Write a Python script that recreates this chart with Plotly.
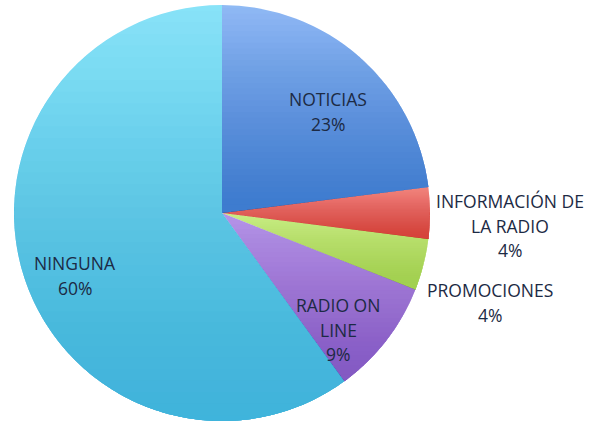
import math
import plotly.graph_objects as go

# Survey shares (percent), listed clockwise from 12 o'clock
categories = ["NOTICIAS", "INFORMACIÓN DE LA RADIO", "PROMOCIONES", "RADIO ON LINE", "NINGUNA"]
label_lines = [["NOTICIAS"], ["INFORMACIÓN DE", "LA RADIO"], ["PROMOCIONES"], ["RADIO ON", "LINE"], ["NINGUNA"]]
values = [23, 4, 4, 9, 60]
# each slice is shaded with a vertical gradient: light colour at top, dark at bottom
colors_top = ["#8fbaf4", "#f2857d", "#cbed84", "#b496ea", "#88e3f8"]
colors_bottom = ["#3d7bd0", "#d8413b", "#a2d34e", "#8459c4", "#3fb4dc"]

W, H = 591, 427
cx, cy, r = 222, 213, 208  # pie centre and radius in pixels

# label block anchors (pixel centre of first line), and line pitch
label_pos = [(328, 99), (510, 201), (490, 290), (338, 305), (75, 263)]
pitch = 24.5

fig = go.Figure(go.Pie(
    labels=categories,
    values=values,
    sort=False,
    direction="clockwise",
    rotation=0,
    marker=dict(colors=colors_top, line=dict(width=0)),
    textinfo="none",
    hoverinfo="label+percent",
    showlegend=False,
    domain=dict(x=[(cx - r) / W, (cx + r) / W], y=[(H - cy - r) / H, (H - cy + r) / H]),
))


def wedge_polygon(a0, a1):
    """Pixel-space polygon of a pie wedge, angles in degrees clockwise from 12 o'clock."""
    pts = [(cx, cy)]
    n = max(2, int(abs(a1 - a0)) + 1)
    for k in range(n + 1):
        a = math.radians(a0 + (a1 - a0) * k / n)
        pts.append((cx + r * math.sin(a), cy - r * math.cos(a)))
    return pts


def clip_below(poly, y0):
    """Keep the part of a polygon with pixel y >= y0 (Sutherland-Hodgman, one edge)."""
    out = []
    for i in range(len(poly)):
        p, q = poly[i], poly[(i + 1) % len(poly)]
        pin, qin = p[1] >= y0, q[1] >= y0
        if pin:
            out.append(p)
        if pin != qin:
            t = (y0 - p[1]) / (q[1] - p[1])
            out.append((p[0] + t * (q[0] - p[0]), y0))
    return out


def to_path(poly):
    return "M " + " L ".join(f"{x / W:.5f},{1 - y / H:.5f}" for x, y in poly) + " Z"


# gradient layers: stacked translucent bands of the dark colour, denser toward the bottom
shapes = []
total = sum(values)
start = 0.0
steps = 36
for v, dark in zip(values, colors_bottom):
    span = 360.0 * v / total
    poly = wedge_polygon(start, start + span)
    start += span
    ys = [p[1] for p in poly]
    ymin, ymax = min(ys), max(ys)
    for k in range(1, steps + 1):
        y0 = ymin + (ymax - ymin) * (k - 0.5) / steps
        part = clip_below(poly, y0)
        if len(part) < 3:
            continue
        shapes.append(dict(
            type="path", xref="paper", yref="paper", path=to_path(part),
            fillcolor=dark, opacity=1.0 / (steps - k + 1), line=dict(width=0), layer="above",
        ))

font = dict(family="Open Sans, sans-serif", size=17.5, color="#1c2a44")
annotations = []
for lines, v, (px, py) in zip(label_lines, values, label_pos):
    texts = lines + [f"{round(100 * v / total)}%"]
    for i, t in enumerate(texts):
        annotations.append(dict(
            x=px / W, y=1 - (py + i * pitch) / H, xref="paper", yref="paper",
            text=t, showarrow=False, xanchor="center", yanchor="middle", font=font,
        ))

fig.update_layout(
    width=W, height=H,
    margin=dict(l=0, r=0, t=0, b=0),
    paper_bgcolor="white", plot_bgcolor="white",
    shapes=shapes,
    annotations=annotations,
)

fig.write_html("out.html")
